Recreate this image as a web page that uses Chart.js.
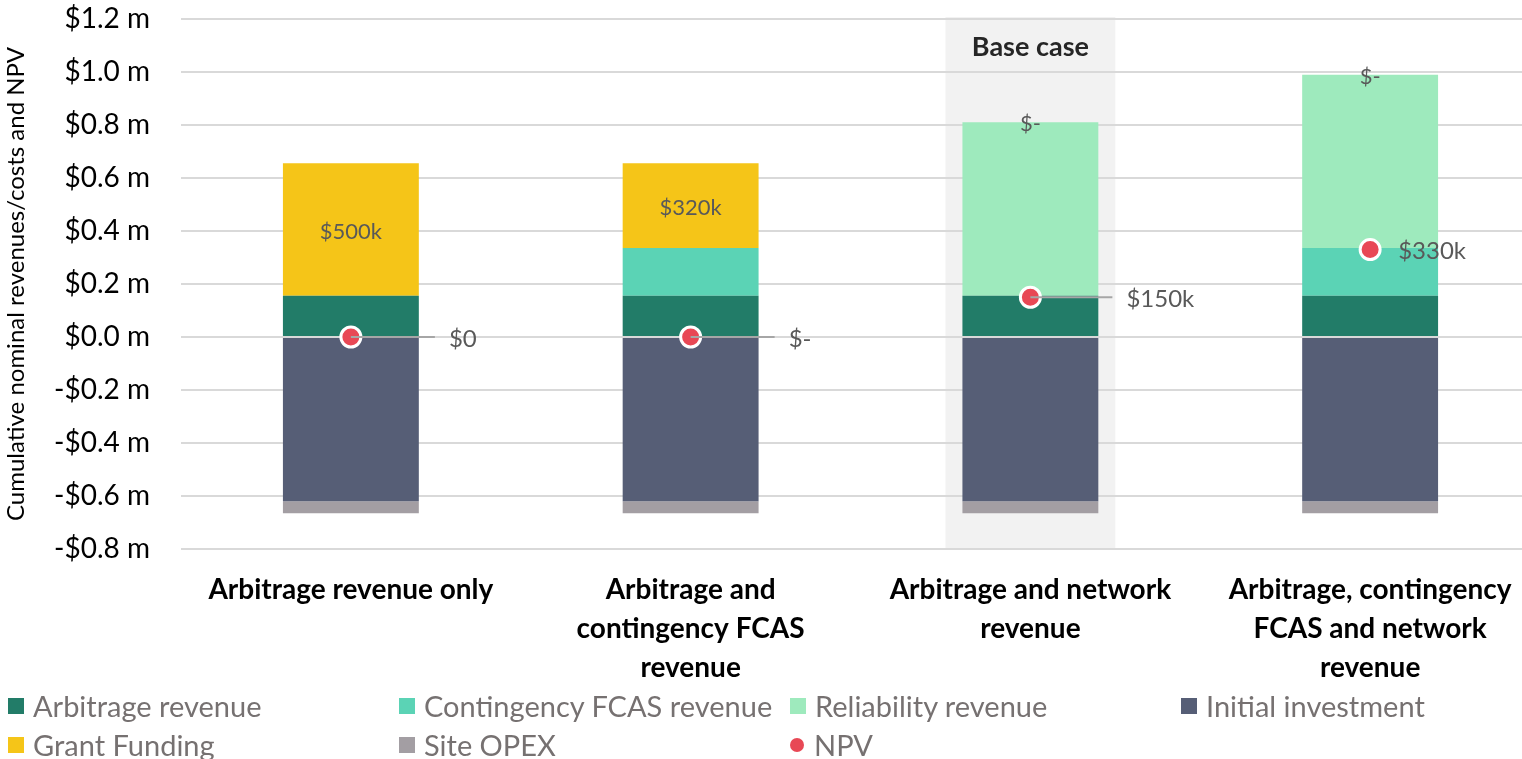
<!DOCTYPE html>
<html>
<head>
<meta charset="utf-8">
<script src="https://cdn.jsdelivr.net/npm/chart.js@4"></script>
<style>
	html, body { margin: 0; padding: 0; background: #fff; overflow: hidden; }
	#wrap { position: relative; width: 1553px; height: 759px; }
	#chart { position: absolute; left: 0; top: 0; }
	#legend {
		position: absolute; left: 8px; top: 686px;
		display: grid; grid-template-columns: 391px 391px 391px 340px;
		grid-auto-rows: 39px;
		font-family: Lato, sans-serif; font-size: 29px; color: #767171;
	}
	#legend div { display: flex; align-items: center; white-space: nowrap; }
	#legend span.box { display: inline-block; width: 16px; height: 16px; margin-right: 9px; }
	#legend span.dot { display: inline-block; width: 14px; height: 14px; border-radius: 50%; margin-right: 10px; }
</style>
</head>
<body>
<div id="wrap">
	<canvas id="chart" width="1553" height="700"></canvas>
	<div id="legend"></div>
</div>
<script>
const categories = [
	"Arbitrage revenue only",
	["Arbitrage and", "contingency FCAS", "revenue"],
	["Arbitrage and network", "revenue"],
	["Arbitrage, contingency", "FCAS and network", "revenue"],
];

// values in $ millions
const arbitrage = [0.156, 0.156, 0.156, 0.156];
const contingency = [0, 0.18, 0, 0.18];
const reliability = [0, 0, 0.654, 0.654];
const initialInvestment = [-0.62, -0.62, -0.62, -0.62];
const grantFunding = [0.5, 0.32, 0, 0];
const siteOpex = [-0.045, -0.045, -0.045, -0.045];
const npv = [0, 0, 0.15, 0.33];
const npvLabels = ["$0", "$-", "$150k", "$330k"];
const yTicks = [-0.8, -0.6, -0.4, -0.2, 0, 0.2, 0.4, 0.6, 0.8, 1.0, 1.2];

const FONT = "Lato, sans-serif";

function money(v) {
	return (v < 0 ? "-" : "") + "$" + Math.abs(v).toFixed(1) + " m";
}

function grantText(v) {
	return v ? "$" + Math.round(v * 1000) + "k" : "$-";
}

const labelsPlugin = {
	id: "labels",
	beforeDraw(chart) {
		const { ctx, chartArea, scales } = chart;
		const x = scales.x;
		const step = x.getPixelForValue(1) - x.getPixelForValue(0);
		const cx = x.getPixelForValue(2);
		ctx.save();
		ctx.fillStyle = "#f2f2f2";
		ctx.fillRect(cx - step / 4, chartArea.top - 2, step / 2, chartArea.bottom - chartArea.top + 2);
		ctx.fillStyle = "#262626";
		ctx.font = "bold 27px " + FONT;
		ctx.textAlign = "center";
		ctx.textBaseline = "middle";
		ctx.fillText("Base case", cx, 47);
		ctx.restore();
	},
	afterDatasetsDraw(chart) {
		const { ctx } = chart;
		ctx.save();
		ctx.textBaseline = "middle";
		ctx.textAlign = "center";
		ctx.fillStyle = "#595959";
		ctx.font = "22px " + FONT;

		// grant funding labels, centred in their segment
		const gMeta = chart.getDatasetMeta(4);
		gMeta.data.forEach((bar, i) => {
			const p = bar.getProps(["x", "y", "base"], true);
			ctx.fillText(grantText(grantFunding[i]), p.x, (p.y + p.base) / 2 + 2);
		});

		// NPV labels with leader lines
		const offsets = [98, 98, 96, 28];
		const nMeta = chart.getDatasetMeta(6);
		ctx.font = "24px " + FONT;
		ctx.textAlign = "left";
		nMeta.data.forEach((pt, i) => {
			const lx = pt.x + offsets[i];
			if (offsets[i] > 50) {
				ctx.strokeStyle = "#a6a6a6";
				ctx.lineWidth = 2;
				ctx.beginPath();
				ctx.moveTo(pt.x, pt.y);
				ctx.lineTo(lx - 14, pt.y);
				ctx.stroke();
			}
			ctx.fillText(npvLabels[i], lx, pt.y + 2);
		});
		ctx.restore();
	},
};

const chart = new Chart(document.getElementById("chart"), {
	type: "bar",
	data: {
		labels: categories,
		datasets: [
			{ label: "Arbitrage revenue", data: arbitrage, backgroundColor: "#227c68", order: 1 },
			{ label: "Contingency FCAS revenue", data: contingency, backgroundColor: "#5bd3b5", order: 1 },
			{ label: "Reliability revenue", data: reliability, backgroundColor: "#9eeabd", order: 1 },
			{ label: "Initial investment", data: initialInvestment, backgroundColor: "#565e76", order: 1 },
			{ label: "Grant Funding", data: grantFunding, backgroundColor: "#f5c518", order: 1 },
			{ label: "Site OPEX", data: siteOpex, backgroundColor: "#a39ea3", order: 1 },
			{
				label: "NPV",
				type: "line",
				data: npv,
				stack: "npv",
				showLine: false,
				pointRadius: 10,
				pointBorderWidth: 3,
				pointBackgroundColor: "#e84855",
				pointBorderColor: "#ffffff",
				order: 0,
			},
		],
	},
	options: {
		responsive: false,
		animation: false,
		layout: { padding: { top: 19, right: 0, bottom: 10, left: 0 } },
		datasets: {
			bar: { barPercentage: 0.4, categoryPercentage: 1.0 },
		},
		plugins: {
			legend: { display: false },
			tooltip: { enabled: false },
		},
		scales: {
			x: {
				stacked: true,
				afterFit(scale) {
					scale.height = 141;
					scale.paddingLeft = 0;
					scale.paddingRight = 0;
				},
				grid: { display: false, drawTicks: false },
				border: { display: false },
				ticks: {
					color: "#000",
					font: { family: FONT, size: 28, weight: "bold", lineHeight: 1.39 },
					padding: 22,
					maxRotation: 0,
					autoSkip: false,
				},
			},
			y: {
				stacked: true,
				min: -0.8,
				max: 1.2,
				afterBuildTicks(scale) {
					scale.ticks = yTicks.map((v) => ({ value: v }));
				},
				afterFit(scale) {
					scale.width = 181;
					scale.paddingTop = 0;
					scale.paddingBottom = 0;
				},
				grid: { color: "#d9d9d9", lineWidth: 2, drawTicks: false },
				border: { display: false },
				ticks: {
					color: "#000",
					font: { family: FONT, size: 28 },
					padding: 31,
					callback: (v) => money(v),
				},
				title: {
					display: true,
					text: "Cumulative nominal revenues/costs and NPV",
					color: "#000",
					font: { family: FONT, size: 24 },
					padding: { top: 2, bottom: 0 },
				},
			},
		},
	},
	plugins: [labelsPlugin],
});

// legend built from the chart's own datasets
const legend = document.getElementById("legend");
chart.data.datasets.forEach((ds) => {
	const item = document.createElement("div");
	const mark = document.createElement("span");
	mark.className = ds.type === "line" ? "dot" : "box";
	mark.style.background = ds.type === "line" ? ds.pointBackgroundColor : ds.backgroundColor;
	item.appendChild(mark);
	item.appendChild(document.createTextNode(ds.label));
	legend.appendChild(item);
});
</script>
</body>
</html>
